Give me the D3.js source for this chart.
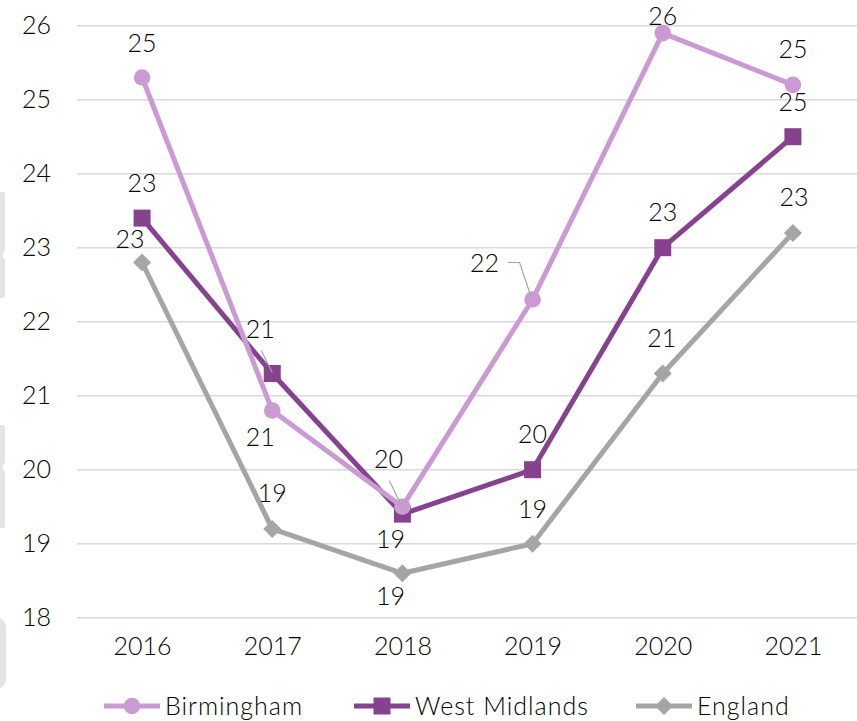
<!DOCTYPE html>
<html>
<head>
<meta charset="utf-8">
<script src="https://cdn.jsdelivr.net/npm/d3@7/dist/d3.min.js"></script>
<style>
  html, body { margin: 0; padding: 0; background: #ffffff; }
  svg { display: block; font-family: Lato, "Open Sans", sans-serif; }
</style>
</head>
<body>
<svg id="chart" width="857" height="721"></svg>
<script>
// Years on the category axis
const years = ["2016", "2017", "2018", "2019", "2020", "2021"];

// Series values
const birmingham   = [25.3, 20.8, 19.5, 22.3, 25.9, 25.2];
const westMidlands = [23.4, 21.3, 19.4, 20.0, 23.0, 24.5];
const england      = [22.8, 19.2, 18.6, 19.0, 21.3, 23.2];

// Value axis ticks
const yTicks = [18, 19, 20, 21, 22, 23, 24, 25, 26];

const seriesNames = ["Birmingham", "West Midlands", "England"];

// Data-label placement (offsets from each point, in px) and leader lines
const labelLayout = {
  "Birmingham":    [[0, -35], [-12, 26], [-14, -48], [-48, -37], [0, -17], [0, -36]],
  "West Midlands": [[0, -35], [-12, -45], [-12, 25], [0, -36], [0, -36], [0, -35]],
  "England":       [[-12, -24], [0, -36], [-12, 23], [0, -35], [-1, -36], [1, -36]]
};
const leaders = [
  // [series, index, points relative to data point]
  ["Birmingham", 2, [[-13, -26], [-1, -1]]],
  ["West Midlands", 1, [[-11, -23], [0, -1]]],
  ["Birmingham", 3, [[-25, -37], [-13, -37], [-2, -4]]]
];

const styles = {
  "Birmingham":    { color: "#ca9bd2", marker: "circle" },
  "West Midlands": { color: "#86418f", marker: "square" },
  "England":       { color: "#a5a5a5", marker: "diamond" }
};

const series = [
  { name: "Birmingham", values: birmingham },
  { name: "West Midlands", values: westMidlands },
  { name: "England", values: england }
];

const svg = d3.select("#chart");

const x = d3.scalePoint().domain(years).range([77, 858]).padding(0.5);
const y = d3.scaleLinear().domain([18, 26]).range([617.7, 25.7]);

// Decorative tabs along the left edge
const tabs = svg.append("g").attr("fill", "#e4e4e4");
tabs.append("path").attr("d", "M0,192 L3,192 Q5,192 5,195 L5,250 L2,255 L5,260 L5,295 Q5,298 3,298 L0,298 Z");
tabs.append("path").attr("d", "M0,425 L3,425 Q5,425 5,428 L5,462 L2,467 L5,472 L5,525 Q5,528 3,528 L0,528 Z");
tabs.append("path").attr("d", "M0,618 Q6,620 6,630 L6,676 Q6,686 0,688 Z");

// Horizontal gridlines
svg.append("g")
  .selectAll("line")
  .data(yTicks)
  .join("line")
  .attr("x1", 77).attr("x2", 857)
  .attr("y1", d => y(d)).attr("y2", d => y(d))
  .attr("stroke", "#d9d9d9")
  .attr("stroke-width", 1.5);

const textFont = "Lato, 'Open Sans', sans-serif";

// Value axis
const yAxis = svg.append("g")
  .attr("transform", "translate(77,0)")
  .call(d3.axisLeft(y).tickValues(yTicks).tickSize(0).tickPadding(26).tickFormat(d3.format("d")));
yAxis.select(".domain").remove();
yAxis.selectAll("text")
  .attr("font-size", 25).attr("font-weight", 300).attr("fill", "#000").attr("font-family", textFont);

// Category axis
const xAxis = svg.append("g")
  .attr("transform", "translate(0,617.7)")
  .call(d3.axisBottom(x).tickSize(0).tickPadding(20));
xAxis.select(".domain").remove();
xAxis.selectAll("text")
  .attr("font-size", 25).attr("font-weight", 300).attr("fill", "#000").attr("font-family", textFont);

function drawMarker(g, type, color, cx, cy) {
  if (type === "circle") {
    g.append("circle").attr("cx", cx).attr("cy", cy).attr("r", 8.3).attr("fill", color);
  } else if (type === "square") {
    const h = 8.5;
    g.append("rect").attr("x", cx - h).attr("y", cy - h).attr("width", 2 * h).attr("height", 2 * h).attr("fill", color);
  } else {
    const h = 9;
    g.append("path")
      .attr("d", `M${cx},${cy - h} L${cx + h},${cy} L${cx},${cy + h} L${cx - h},${cy} Z`)
      .attr("fill", color);
  }
}

const line = d3.line().x((d, i) => x(years[i])).y(d => y(d));

// Draw from back to front: England, West Midlands, Birmingham
const drawOrder = ["England", "West Midlands", "Birmingham"];
drawOrder.forEach(name => {
  const s = series.find(v => v.name === name);
  const st = styles[name];
  const g = svg.append("g");
  g.append("path")
    .datum(s.values)
    .attr("d", line)
    .attr("fill", "none")
    .attr("stroke", st.color)
    .attr("stroke-width", 5)
    .attr("stroke-linejoin", "round");
  s.values.forEach((v, i) => drawMarker(g, st.marker, st.color, x(years[i]), y(v)));
});

// Leader lines
svg.append("g")
  .selectAll("path")
  .data(leaders)
  .join("path")
  .attr("d", d => {
    const s = series.find(v => v.name === d[0]);
    const px = x(years[d[1]]), py = y(s.values[d[1]]);
    return "M" + d[2].map(p => (px + p[0]) + "," + (py + p[1])).join("L");
  })
  .attr("fill", "none")
  .attr("stroke", "#a6a6a6")
  .attr("stroke-width", 1.2);

// Data labels
const fmt = d3.format(".0f");
series.forEach(s => {
  svg.append("g")
    .selectAll("text")
    .data(s.values)
    .join("text")
    .attr("x", (d, i) => x(years[i]) + labelLayout[s.name][i][0])
    .attr("y", (d, i) => y(d) + labelLayout[s.name][i][1])
    .attr("dy", "0.36em")
    .attr("text-anchor", "middle")
    .attr("font-size", 25)
    .attr("font-weight", 300)
    .attr("fill", "#000")
    .text(d => fmt(d));
});

// Legend
const legendItems = [
  { name: seriesNames[0], x0: 104 },
  { name: seriesNames[1], x0: 354 },
  { name: seriesNames[2], x0: 636 }
];
const legend = svg.append("g");
legendItems.forEach(item => {
  const st = styles[item.name];
  const ly = 706;
  legend.append("line")
    .attr("x1", item.x0).attr("x2", item.x0 + 56)
    .attr("y1", ly).attr("y2", ly)
    .attr("stroke", st.color).attr("stroke-width", 5);
  drawMarker(legend, st.marker, st.color, item.x0 + 28, ly);
  legend.append("text")
    .attr("x", item.x0 + 61).attr("y", ly)
    .attr("dy", "0.36em")
    .attr("font-size", 25)
    .attr("font-weight", 300)
    .attr("letter-spacing", 1)
    .attr("fill", "#000")
    .text(item.name);
});
</script>
</body>
</html>
